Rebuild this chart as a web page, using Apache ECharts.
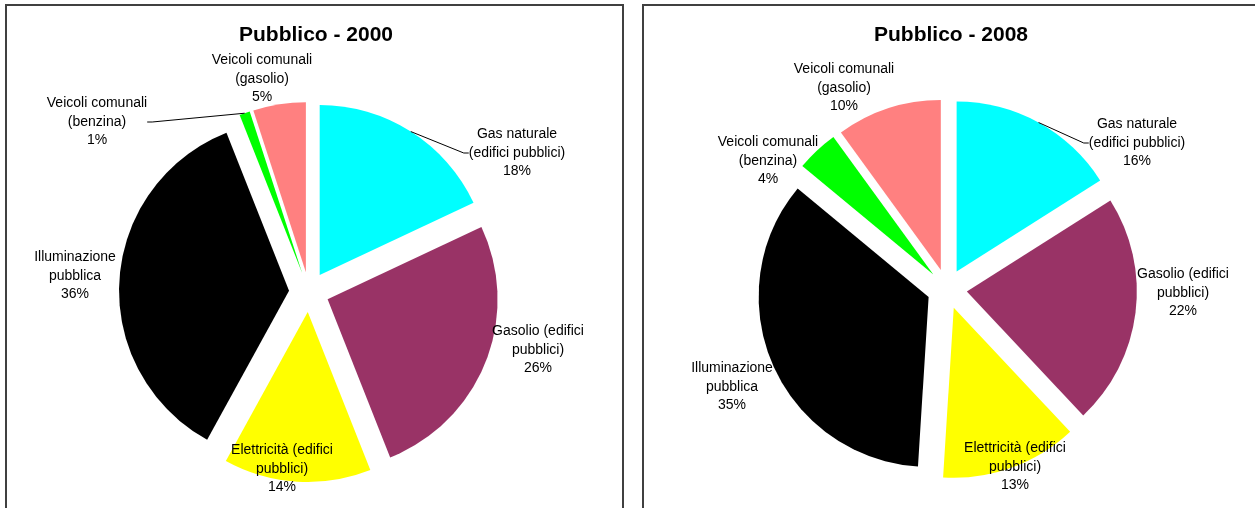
<!DOCTYPE html>
<html><head><meta charset="utf-8">
<script src="https://cdn.jsdelivr.net/npm/echarts@6/dist/echarts.min.js"></script>
<style>html,body{margin:0;padding:0;background:#fff}#c{width:1255px;height:508px}</style>
</head><body><div id="c"></div>
<script>
// ---- data ----
const categories = [
  'Gas naturale\n(edifici pubblici)',
  'Gasolio (edifici\npubblici)',
  'Elettricità (edifici\npubblici)',
  'Illuminazione\npubblica',
  'Veicoli comunali\n(benzina)',
  'Veicoli comunali\n(gasolio)'
];
const values2000 = [18, 26, 14, 36, 1, 5];
const values2008 = [16, 22, 13, 35, 4, 10];
const titles = ['Pubblico - 2000', 'Pubblico - 2008'];

// ---- styling / layout ----
const colors = ['#00FFFF', '#993366', '#FFFF00', '#000000', '#00FF00', '#FF8080'];
const centers = [[309, 292], [947, 289]];
const RADIUS = 170, EXPLODE = 20;
const labelOffsets = [
  [[208, -139], [229, 58], [-27, 177], [-234, -16], [-212, -170], [-47, -213]],
  [[190, -146], [236, 4], [68, 178], [-215, 98], [-179, -128], [-103, -201]]
];
const leaderLines = [
  [true, false, false, false, true, false],
  [true, false, false, false, false, false]
];
const FONT = '"Liberation Sans", Arial, sans-serif';

// exploded, visible slices (no labels)
function slicesSeries(idx, values) {
  return {
    type: 'pie',
    center: centers[idx],
    radius: RADIUS,
    startAngle: 90,
    clockwise: true,
    selectedMode: 'multiple',
    selectedOffset: EXPLODE,
    silent: true,
    animation: false,
    z: 2,
    emphasis: { disabled: true, scale: false },
    itemStyle: { borderWidth: 0 },
    label: { show: false },
    labelLine: { show: false },
    data: categories.map((name, i) => ({
      name: name, value: values[i], selected: true,
      itemStyle: { color: colors[i] }
    }))
  };
}

// transparent companion series carrying the data labels
function labelSeries(idx, values) {
  const c = centers[idx];
  return {
    type: 'pie',
    center: c,
    radius: RADIUS + EXPLODE,
    startAngle: 90,
    clockwise: true,
    silent: true,
    animation: false,
    z: 5,
    avoidLabelOverlap: false,
    emphasis: { disabled: true, scale: false },
    itemStyle: { color: 'rgba(0,0,0,0)', borderWidth: 0 },
    label: {
      show: true,
      position: 'outside',
      alignTo: 'none',
      color: '#000',
      opacity: 1,
      fontFamily: FONT,
      fontSize: 14,
      lineHeight: 18.5,
      formatter: p => p.name + '\n' + Math.round(p.percent) + '%'
    },
    labelLine: { show: false, length: 5, length2: 5, lineStyle: { color: '#000', width: 1, opacity: 1 } },
    labelLayout: p => {
      const o = labelOffsets[idx][p.dataIndex];
      return { x: c[0] + o[0], y: c[1] + o[1], align: 'center', verticalAlign: 'middle' };
    },
    data: categories.map((name, i) => ({
      name: name, value: values[i],
      labelLine: { show: leaderLines[idx][i] }
    }))
  };
}

const chart = echarts.init(document.getElementById('c'), null, { renderer: 'canvas' });
chart.setOption({
  backgroundColor: '#fff',
  animation: false,
  title: [
    { text: titles[0], left: 316, top: 25, padding: 0, textAlign: 'center',
      textStyle: { fontFamily: FONT, fontSize: 21, fontWeight: 'bold', color: '#000' } },
    { text: titles[1], left: 951, top: 25, padding: 0, textAlign: 'center',
      textStyle: { fontFamily: FONT, fontSize: 21, fontWeight: 'bold', color: '#000' } }
  ],
  graphic: [
    { type: 'rect', shape: { x: 6, y: 5, width: 617, height: 600 },
      style: { fill: 'none', stroke: '#404040', lineWidth: 2 }, silent: true, z: -1 },
    { type: 'rect', shape: { x: 643, y: 5, width: 700, height: 600 },
      style: { fill: 'none', stroke: '#404040', lineWidth: 2 }, silent: true, z: -1 }
  ],
  series: [
    slicesSeries(0, values2000), slicesSeries(1, values2008),
    labelSeries(0, values2000), labelSeries(1, values2008)
  ]
});
</script>
</body></html>
